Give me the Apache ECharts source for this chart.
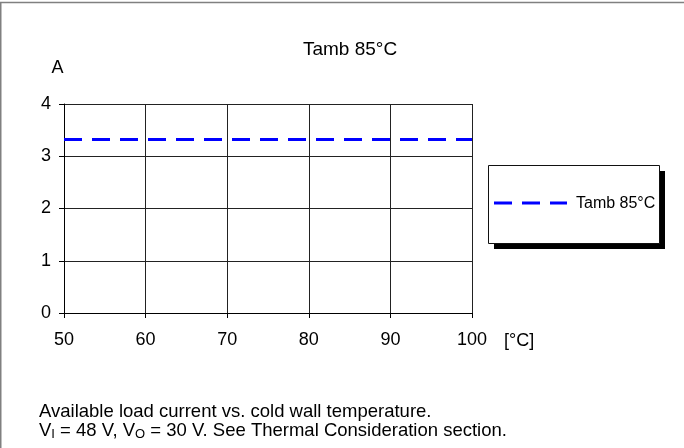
<!DOCTYPE html>
<html><head><meta charset="utf-8">
<script src="https://cdn.jsdelivr.net/npm/echarts@6/dist/echarts.min.js"></script>
<style>html,body{margin:0;padding:0;background:#fff}#c{width:684px;height:448px}</style>
</head><body><div id="c"></div>
<script>
const seriesName = 'Tamb 85°C';
const temps = [50, 60, 70, 80, 90, 100];
const current = [3.32, 3.32, 3.32, 3.32, 3.32, 3.32];
const yTicks = [0, 1, 2, 3, 4];
const xTicks = [50, 60, 70, 80, 90, 100];
const captionLine1 = 'Available load current vs. cold wall temperature.';

const FONT = 'Liberation Sans, Arial, sans-serif';
const chart = echarts.init(document.getElementById('c'), null, {renderer: 'canvas'});
chart.setOption({
  animation: false,
  backgroundColor: '#fff',
  grid: {left: 64, right: 212, top: 104, bottom: 135, show: false},
  xAxis: {
    type: 'value', min: xTicks[0], max: xTicks[xTicks.length-1], interval: 10,
    axisLine: {lineStyle: {color: '#000', width: 1}},
    axisTick: {show: true, length: 5, lineStyle: {color: '#000'}},
    axisLabel: {color: '#000', fontSize: 18, fontFamily: FONT, margin: 18},
    splitLine: {show: true, lineStyle: {color: '#222', width: 1}}
  },
  yAxis: {
    type: 'value', min: yTicks[0], max: yTicks[yTicks.length-1], interval: 1,
    axisLine: {show: true, lineStyle: {color: '#000', width: 1}},
    axisTick: {show: true, length: 5, lineStyle: {color: '#000'}},
    axisLabel: {color: '#000', fontSize: 18, fontFamily: FONT, margin: 13},
    splitLine: {show: true, lineStyle: {color: '#222', width: 1}}
  },
  series: [{
    name: seriesName, type: 'line',
    data: temps.map((t, i) => [t, current[i]]),
    showSymbol: false, symbol: 'none',
    lineStyle: {color: '#0000ff', width: 3, type: [18, 10]}
  }],
  graphic: [
    {type: 'line', shape: {x1: 0, y1: 2.5, x2: 684, y2: 2.5}, style: {stroke: '#808080', lineWidth: 1.5}},
    {type: 'line', shape: {x1: 0.75, y1: 2, x2: 0.75, y2: 448}, style: {stroke: '#808080', lineWidth: 1.5}},
    {type: 'text', x: 350, y: 50, style: {text: seriesName, fill: '#000', font: '19px ' + FONT, align: 'center', verticalAlign: 'middle'}},
    {type: 'text', x: 57.5, y: 68, style: {text: 'A', fill: '#000', font: '18px ' + FONT, align: 'center', verticalAlign: 'middle'}},
    {type: 'text', x: 504, y: 341, style: {text: '[°C]', fill: '#000', font: '18px ' + FONT, align: 'left', verticalAlign: 'middle'}},
    {type: 'rect', shape: {x: 494, y: 171, width: 171, height: 78}, style: {fill: '#000'}},
    {type: 'rect', shape: {x: 488.5, y: 165.5, width: 171, height: 78},
      style: {fill: '#fff', stroke: '#111', lineWidth: 1}},
    {type: 'line', shape: {x1: 494, y1: 203, x2: 567, y2: 203}, style: {stroke: '#0000ff', lineWidth: 3, lineDash: [18, 10]}},
    {type: 'text', x: 576, y: 204, style: {text: seriesName, fill: '#000', font: '16px ' + FONT, align: 'left', verticalAlign: 'middle'}},
    {type: 'text', x: 39, y: 412, style: {text: captionLine1, fill: '#000', font: '18.5px ' + FONT, align: 'left', verticalAlign: 'middle'}},
    {type: 'text', x: 39, y: 431, style: {
      text: 'V{sub|I} = 48 V, V{sub|O} = 30 V. See Thermal Consideration section.',
      fill: '#000', font: '18.5px ' + FONT, align: 'left', verticalAlign: 'middle',
      rich: {sub: {fontSize: 13, fontFamily: FONT, fill: '#000', verticalAlign: 'bottom', lineHeight: 13, padding: [9, 0, 0, 0]}}
    }}
  ]
});
</script></body></html>
